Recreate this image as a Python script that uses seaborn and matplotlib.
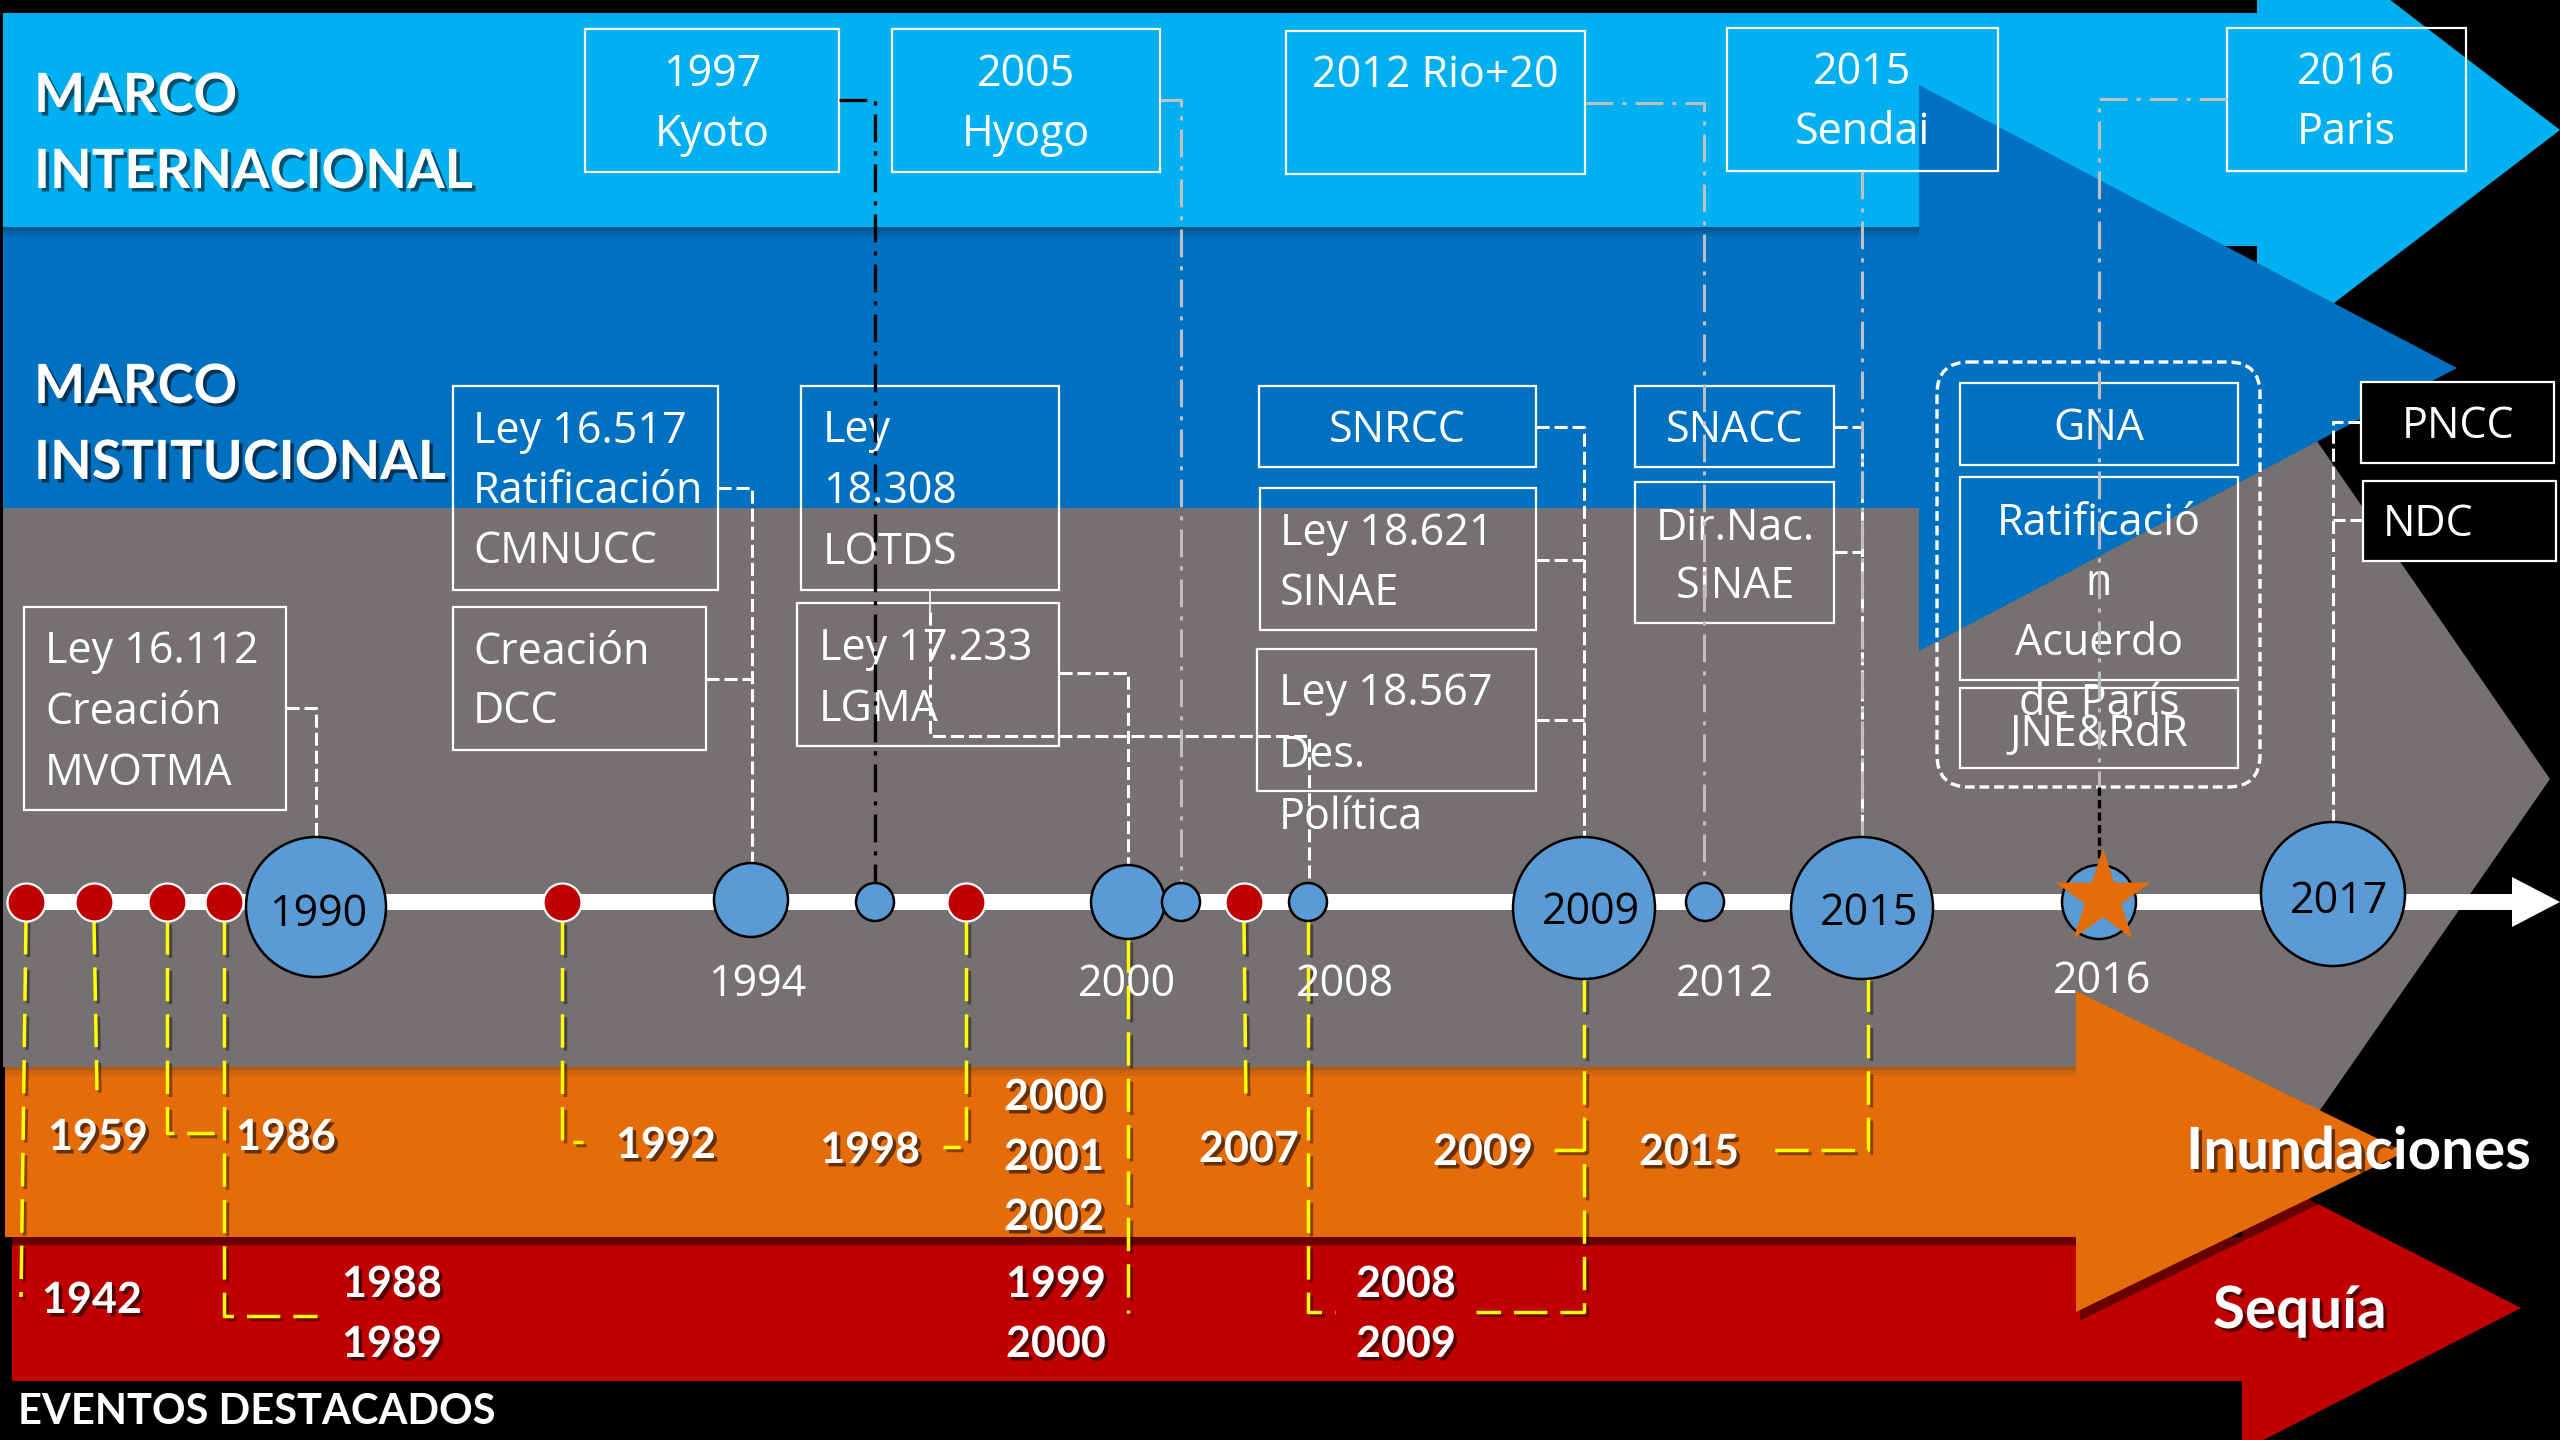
import numpy as np
import pandas as pd
import matplotlib
matplotlib.use("Agg")
import matplotlib.pyplot as plt
import matplotlib.patheffects as pe
from matplotlib.patches import Polygon, Rectangle, FancyBboxPatch
import seaborn as sns

# ---------------- data ----------------
blue_years = [1990, 1994, 1997, 2000, 2005, 2008, 2009, 2012, 2015, 2016, 2017]
inside_labels = ["1990", "2009", "2015", "2017"]
below_labels = ["1994", "2000", "2008", "2012", "2016"]
red_years = [1942, 1959, 1986, 1988, 1992, 1998, 2007]
intl_labels = ["1997\nKyoto", "2005\nHyogo", "2012 Rio+20", "2015\nSendai", "2016\nParis"]
inst_labels = ["Ley 16.517\nRatificación\nCMNUCC", "Ley\n18.308\nLOTDS", "Ley 17.233\nLGMA",
               "Creación\nDCC", "Ley 16.112\nCreación\nMVOTMA", "SNRCC", "Ley 18.621\nSINAE",
               "Ley 18.567\nDes.\nPolítica", "SNACC", "Dir.Nac.\nSINAE", "GNA",
               "Ratificació\nn\nAcuerdo\nde París", "JNE&RdR", "PNCC", "NDC"]
flood_labels = ["1959", "1986", "1992", "1998", "2000\n2001\n2002", "2007", "2009", "2015"]
drought_labels = ["1942", "1988\n1989", "1999\n2000", "2008\n2009"]
band_titles = ["MARCO\nINTERNACIONAL", "MARCO\nINSTITUCIONAL"]
arrow_titles = ["Inundaciones", "Sequía"]
footer_title = "EVENTOS DESTACADOS"

# ---------------- layout (pixel space) ----------------
blue_x = [316, 751, 875, 1128, 1181, 1308, 1584, 1705, 1862, 2099, 2333]
blue_y = [907, 900, 902, 902, 902, 902, 908, 902, 908, 902, 894]
blue_r = [70, 37, 19, 37, 19, 19, 71, 19, 71, 37, 72]
inside_pos = [(318, 911), (1591, 909), (1869, 910), (2339, 898)]
below_pos = [(757, 981), (1127, 981), (1345, 981), (1725, 981), (2102, 978)]
red_x = [26, 94, 167, 224, 562, 966, 1244]
red_y = 902
red_r = 19

intl_rects = [(585, 839, 29, 172), (892, 1160, 29, 172), (1286, 1585, 31, 174),
              (1727, 1998, 28, 171), (2227, 2466, 28, 171)]
intl_text = [(712, 71), (1026, 71), (1435, 72), (1862, 69), (2346, 69)]

inst_layout = [
    ((453, 718, 386, 590), 'left', 473, 428, 60, 'none'),
    ((801, 1059, 386, 590), 'left', 823, 427, 61, 'none'),
    ((797, 1059, 603, 746), 'left', 819, 645, 61, 'none'),
    ((453, 706, 607, 750), 'left', 473, 649, 59, 'none'),
    ((24, 286, 607, 810), 'left', 45, 648, 61, 'none'),
    ((1259, 1536, 386, 467), 'center', 1397, 427, 60, 'none'),
    ((1260, 1536, 488, 630), 'left', 1280, 530, 60, 'none'),
    ((1257, 1536, 649, 791), 'left', 1279, 690, 62, 'none'),
    ((1635, 1834, 386, 467), 'center', 1735, 427, 60, 'none'),
    ((1635, 1834, 482, 623), 'center', 1735, 525, 58, 'none'),
    ((1960, 2238, 383, 465), 'center', 2099, 425, 60, 'none'),
    ((1960, 2238, 477, 680), 'center', 2099, 520, 60, 'none'),
    ((1960, 2238, 688, 768), 'center', 2099, 731, 60, 'none'),
    ((2361, 2554, 382, 463), 'center', 2458, 423, 60, 'black'),
    ((2363, 2556, 481, 561), 'left', 2383, 521, 60, 'black'),
]

flood_pos = [(48, 1135, 'left'), (236, 1135, 'left'), (616, 1143, 'left'), (920, 1148, 'right'),
             (1004, 1095, 'left'), (1199, 1147, 'left'), (1433, 1150, 'left'), (1639, 1150, 'left')]
drought_pos = [(42, 1298, 'left'), (342, 1282, 'left'), (1006, 1282, 'left'), (1356, 1282, 'left')]

yellow_paths = [
    [(26, 921), (21, 1297)],
    [(94, 921), (97, 1090)],
    [(167, 921), (167, 1133), (214, 1133)],
    [(224, 921), (224, 1316), (317, 1316)],
    [(562, 921), (562, 1142), (583, 1142)],
    [(966, 921), (966, 1147), (943, 1147)],
    [(1128, 939), (1128, 1313)],
    [(1244, 921), (1246, 1105)],
    [(1308, 921), (1308, 1312), (1335, 1312)],
    [(1584, 978), (1584, 1312), (1476, 1312)],
    [(1554, 1150), (1584, 1150)],
    [(1868, 978), (1868, 1150), (1762, 1150)],
]
white_paths = [
    [(286, 708), (316, 708), (316, 837)],
    [(718, 488), (752, 488), (752, 862)],
    [(706, 679), (752, 679)],
    [(930, 612), (930, 736), (1309, 736), (1309, 883)],
    [(1059, 673), (1128, 673), (1128, 865)],
    [(1536, 427), (1584, 427), (1584, 838)],
    [(1536, 560), (1584, 560)],
    [(1536, 720), (1584, 720)],
    [(1834, 427), (1862, 427), (1862, 838)],
    [(1834, 552), (1862, 552)],
    [(2361, 422), (2333, 422), (2333, 822)],
    [(2363, 520), (2333, 520)],
]
gray_paths = [
    [(1160, 100), (1181, 100), (1181, 883)],
    [(1585, 103), (1704, 103), (1704, 883)],
    [(1862, 171), (1862, 838)],
    [(2227, 99), (2099, 99), (2099, 787)],
]
black_path = [(839, 100), (875, 100), (875, 883)]

# ---------------- figure ----------------
plt.rcParams['lines.scale_dashes'] = False
fig = plt.figure(figsize=(25.6, 14.4), dpi=100, facecolor='black')
ax = fig.add_axes([0, 0, 1, 1])
ax.set_xlim(0, 2560)
ax.set_ylim(1440, 0)
ax.axis('off')
ax.set_facecolor('black')

REG = ['Open Sans', 'DejaVu Sans']
BOLD = ['Lato', 'DejaVu Sans']
shadow_txt = [pe.SimplePatchShadow(offset=(2.5, -2.5), shadow_rgbFace='black', alpha=0.55), pe.Normal()]
shadow_poly = [pe.SimplePatchShadow(offset=(3, -6), shadow_rgbFace='black', alpha=0.45), pe.Normal()]


def add_poly(pts, color, z, shadow=False):
    p = Polygon(pts, closed=True, facecolor=color, edgecolor='none', zorder=z)
    if shadow:
        p.set_path_effects(shadow_poly)
    ax.add_patch(p)


# big arrows
add_poly([(3, 508), (2150, 508), (2150, 199), (2550, 779), (2150, 1355), (2150, 1067), (3, 1067)], '#767171', 1)
add_poly([(3, 13), (2257, 13), (2257, -102), (2560, 130), (2257, 362), (2257, 246), (3, 246)], '#00B0F0', 2)
add_poly([(3, 227), (1919, 227), (1919, 85), (2457, 368), (1919, 651), (1919, 508), (3, 508)], '#0070C0', 3)
for k, a in enumerate([0.45, 0.3, 0.15]):
    ax.add_patch(Rectangle((3, 227 + 3 * k), 1916, 3, facecolor='#06384F', alpha=a, edgecolor='none', zorder=3.1))
add_poly([(12, 1237), (2242, 1237), (2242, 1165), (2521, 1308), (2242, 1451), (2242, 1381), (12, 1381)], '#C00000', 4)
add_poly([(5, 1067), (2076, 1067), (2076, 991), (2405, 1152), (2076, 1312), (2076, 1237), (5, 1237)], '#E46C0A', 5, shadow=True)
for k, a in enumerate([0.35, 0.2, 0.1]):
    ax.add_patch(Rectangle((5, 1067 + 3 * k), 2071, 3, facecolor='#5A3A20', alpha=a, edgecolor='none', zorder=5.1))

# titles
for i, t in enumerate(band_titles):
    y0 = [92, 383][i]
    for j, line in enumerate(t.split('\n')):
        ax.text(34, y0 + j * 76 + 20, line, color='white', fontsize=39, fontweight='bold',
                family=BOLD, ha='left', va='baseline', zorder=30, path_effects=shadow_txt)
ax.text(2186, 1148 + 21, arrow_titles[0], color='white', fontsize=42, fontweight='bold',
        family=BOLD, ha='left', va='baseline', zorder=30, path_effects=shadow_txt)
ax.text(2213, 1307 + 21, arrow_titles[1], color='white', fontsize=42, fontweight='bold',
        family=BOLD, ha='left', va='baseline', zorder=30, path_effects=shadow_txt)
ax.text(18, 1409 + 15, footer_title, color='white', fontsize=30, fontweight='bold',
        family=BOLD, ha='left', va='baseline', zorder=30)


def box(rect, fc='none', z=6):
    x0, x1, y0, y1 = rect
    ax.add_patch(Rectangle((x0, y0), x1 - x0, y1 - y0, facecolor=fc, edgecolor='white', lw=1.6, zorder=z))


# international boxes
for lab, rect, (tx, ty) in zip(intl_labels, intl_rects, intl_text):
    box(rect)
    for j, line in enumerate(lab.split('\n')):
        ax.text(tx, ty + j * 60 + 15, line, color='white', fontsize=31, family=REG,
                ha='center', va='baseline', zorder=7)

# institutional boxes
for lab, (rect, ha, tx, ty, sp, fc) in zip(inst_labels, inst_layout):
    box(rect, fc)
    for j, line in enumerate(lab.split('\n')):
        ax.text(tx, ty + j * sp + 15, line, color='white', fontsize=31, family=REG,
                ha=ha, va='baseline', zorder=7)

# GNA dashed group
ax.add_patch(FancyBboxPatch((1937, 362), 2260 - 1937, 787 - 362, boxstyle="round,pad=0,rounding_size=32",
                            facecolor='none', edgecolor='white', lw=2.4, linestyle=(0, (7, 3.5)), zorder=7))

# connectors
for path in white_paths:
    xs, ys = zip(*path)
    ax.plot(xs, ys, color='white', lw=2.2, linestyle=(0, (9.4, 3.6)), zorder=8, solid_capstyle='butt')
ax.plot([930, 930], [590, 612], color='white', lw=1.2, zorder=8)
for path in yellow_paths:
    xs, ys = zip(*path)
    ax.plot(xs, ys, color='#FFFF00', lw=2.5, linestyle=(0, (24, 9.4)), zorder=8,
            path_effects=[pe.SimpleLineShadow(offset=(2, -2), shadow_color='black', alpha=0.4), pe.Normal()])
for path in gray_paths:
    xs, ys = zip(*path)
    ax.plot(xs, ys, color='#BFBFBF', lw=2.2, linestyle=(0, (20, 6.5, 3, 6.5)), zorder=9)
xs, ys = zip(*black_path)
ax.plot(xs, ys, color='black', lw=2.4, linestyle=(0, (20, 6.5, 3, 6.5)), zorder=9)
ax.plot([2099, 2099], [787, 860], color='black', lw=2.4, linestyle=(0, (6, 3)), zorder=9)

# timeline
ax.plot([26, 2515], [902, 902], color='white', lw=11.5, solid_capstyle='butt', zorder=10)
ax.add_patch(Polygon([(2512, 877), (2560, 902), (2512, 927)], closed=True, facecolor='white', edgecolor='none', zorder=10))

px2pt = 0.72
df_blue = pd.DataFrame({"year": blue_years, "x": blue_x, "y": blue_y,
                        "s": [(2 * r * px2pt) ** 2 for r in blue_r]})
sns.scatterplot(data=df_blue, x="x", y="y", s=df_blue["s"].values, color="#5B9BD5",
                edgecolor="black", linewidth=1.8, ax=ax, zorder=20, legend=False)
df_red = pd.DataFrame({"year": red_years, "x": red_x, "y": [red_y] * len(red_x)})
sns.scatterplot(data=df_red, x="x", y="y", s=(2 * red_r * px2pt) ** 2, color="#C00000",
                edgecolor="white", linewidth=1.6, ax=ax, zorder=20, legend=False)
df_star = pd.DataFrame({"x": [2103], "y": [898]})
sns.scatterplot(data=df_star, x="x", y="y", s=(100 * px2pt) ** 2, marker='*', color="#E46C0A",
                edgecolor='none', linewidth=0, ax=ax, zorder=22, legend=False)
ax.set_xlim(0, 2560)
ax.set_ylim(1440, 0)
ax.axis('off')

for lab, (tx, ty) in zip(inside_labels, inside_pos):
    ax.text(tx, ty + 15, lab, color='black', fontsize=31, family=REG, ha='center', va='baseline', zorder=25)
for lab, (tx, ty) in zip(below_labels, below_pos):
    ax.text(tx, ty + 15, lab, color='white', fontsize=31, family=REG, ha='center', va='baseline', zorder=25)

# event labels
for lab, (tx, ty, ha) in zip(flood_labels + drought_labels, flood_pos + drought_pos):
    for j, line in enumerate(lab.split('\n')):
        ax.text(tx, ty + j * 60 + 15, line, color='white', fontsize=31, fontweight='bold', family=BOLD,
                ha=ha, va='baseline', zorder=30, path_effects=shadow_txt)

fig.savefig("out.png", dpi=100, facecolor='black')
